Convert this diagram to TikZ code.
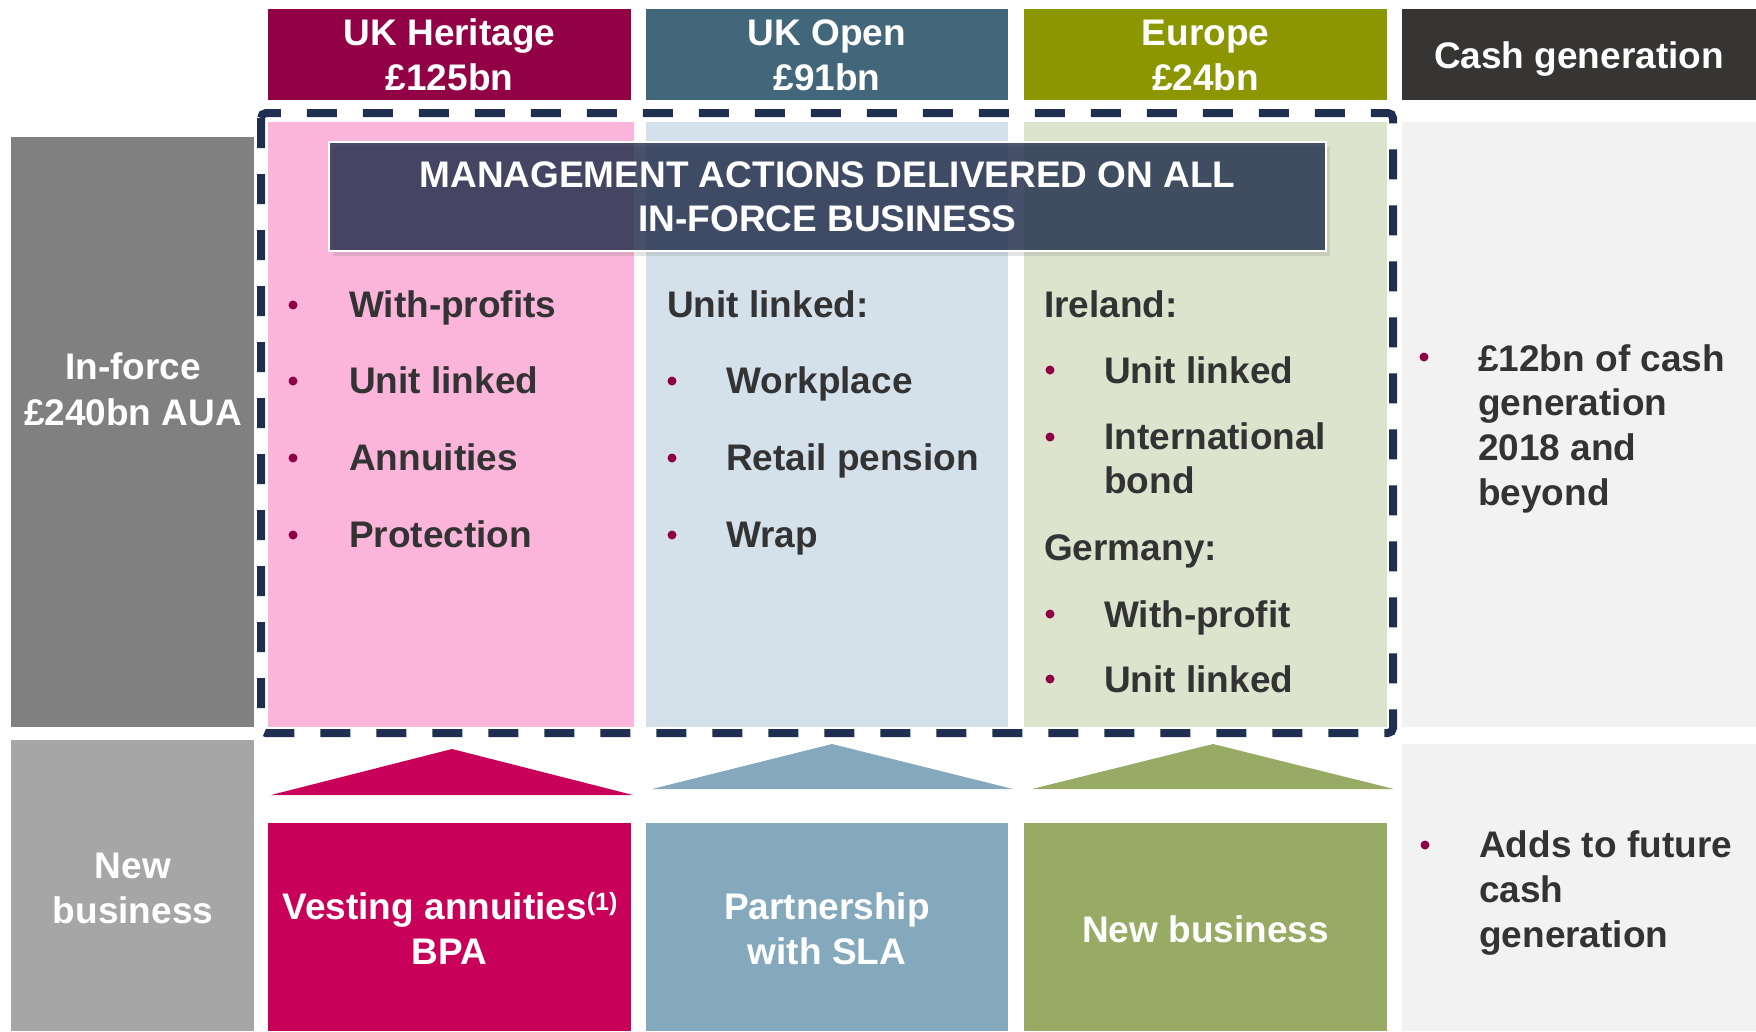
\documentclass[tikz,border=0pt]{standalone}
\usepackage{fontspec}
\setmainfont{Liberation Sans}
\usetikzlibrary{shadows}
\definecolor{hdrHer}{HTML}{920046}
\definecolor{hdrOpen}{HTML}{43677A}
\definecolor{hdrEur}{HTML}{8C9600}
\definecolor{hdrCash}{HTML}{363533}
\definecolor{colPink}{HTML}{FBB4DA}
\definecolor{colBlue}{HTML}{D4E1EA}
\definecolor{colGreen}{HTML}{DCE4CE}
\definecolor{colGray}{HTML}{F2F2F2}
\definecolor{inforce}{HTML}{808080}
\definecolor{newbiz}{HTML}{A6A6A6}
\definecolor{navy}{HTML}{1F2F50}
\definecolor{mgmt}{HTML}{1F2C4A}
\definecolor{botPink}{HTML}{C8005A}
\definecolor{botBlue}{HTML}{84A9BD}
\definecolor{botGreen}{HTML}{97AB64}
\definecolor{bodytxt}{HTML}{333333}
\definecolor{bulletc}{HTML}{8E0045}
\newcommand{\bigtxt}{\fontsize{37}{45}\selectfont\bfseries}
\begin{document}
\begin{tikzpicture}[x=1pt,y=-1pt,
  panel/.style={rectangle, inner sep=0pt, outer sep=0pt, anchor=north west, draw=none},
  wtxt/.style={anchor=base, text=white, font=\bigtxt, inner sep=0pt},
  btxt/.style={anchor=base west, text=bodytxt, font=\bigtxt, inner sep=0pt},
  bul/.style={fill=bulletc},
  hdrsize/.style={minimum width=#1, minimum height=91pt},
]
\useasboundingbox (0,0) rectangle (1756,1031);

% header row
\node[panel, fill=hdrHer,  hdrsize=363pt] (hHer)  at (268,9) {};
\node[panel, fill=hdrOpen, hdrsize=362pt] (hOpen) at (646,9) {};
\node[panel, fill=hdrEur,  hdrsize=363pt] (hEur)  at (1024,9) {};
\node[panel, fill=hdrCash, hdrsize=354pt] (hCash) at (1402,9) {};

% in-force row
\node[panel, fill=inforce,  minimum width=243pt, minimum height=590pt] (inf)   at (11,137) {};
\node[panel, fill=colPink,  minimum width=366pt, minimum height=605pt] (cPink) at (268,122) {};
\node[panel, fill=colBlue,  minimum width=362pt, minimum height=605pt] (cBlue) at (646,122) {};
\node[panel, fill=colGreen, minimum width=363pt, minimum height=605pt] (cGreen) at (1024,122) {};
\node[panel, fill=colGray,  minimum width=354pt, minimum height=605pt] (cGray) at (1402,122) {};

% new business row
\node[panel, fill=newbiz,   minimum width=243pt, minimum height=291pt] (nb)    at (11,740) {};
\node[panel, fill=botPink,  minimum width=363pt, minimum height=208pt] (bPink) at (268,823) {};
\node[panel, fill=botBlue,  minimum width=362pt, minimum height=208pt] (bBlue) at (646,823) {};
\node[panel, fill=botGreen, minimum width=363pt, minimum height=208pt] (bGreen) at (1024,823) {};
\node[panel, fill=colGray,  minimum width=354pt, minimum height=287pt] (bGray) at (1402,744) {};

% triangles
\fill[botPink]  (271,795) -- (452,749) -- (633,795) -- cycle;
\fill[botBlue]  (652,789) -- (832,744) -- (1013,789) -- cycle;
\fill[botGreen] (1032,789) -- (1213,744) -- (1394,789) -- cycle;

% dashed frame
\draw[navy, line width=8pt, dash pattern=on 30pt off 26pt, rounded corners=5pt]
  (261,113) rectangle (1393,733);

% management box
\node[panel, fill=mgmt, fill opacity=0.8, draw=white, line width=2pt,
      minimum width=997pt, minimum height=109pt,
      drop shadow={shadow xshift=4pt, shadow yshift=-5pt, opacity=0.22}] (mg) at (329,142) {};
\node[wtxt] (mg1) at (827.5,187) {MANAGEMENT ACTIONS DELIVERED ON ALL};
\node[wtxt] (mg2) at (827.5,231) {IN-FORCE BUSINESS};

% header texts
\node[wtxt] (tHer1)  at (449.5,45) {UK Heritage};
\node[wtxt] (tHer2)  at (449.5,90) {£125bn};
\node[wtxt] (tOpen1) at (827,45) {UK Open};
\node[wtxt] (tOpen2) at (827,90) {£91bn};
\node[wtxt] (tEur1)  at (1205.5,45) {Europe};
\node[wtxt] (tEur2)  at (1205.5,90) {£24bn};
\node[wtxt] (tCash)  at (1579,68) {Cash generation};

% row labels
\node[wtxt] (tInf1) at (133,379) {In-force};
\node[wtxt] (tInf2) at (133,425) {£240bn AUA};
\node[wtxt] (tNb1)  at (133,878) {New};
\node[wtxt] (tNb2)  at (133,923) {business};

% UK Heritage list
\fill[bul] (293,305) circle (4.5pt);
\fill[bul] (293,381) circle (4.5pt);
\fill[bul] (293,458) circle (4.5pt);
\fill[bul] (293,535) circle (4.5pt);
\node[btxt] (her1) at (349,317) {With-profits};
\node[btxt] (her2) at (349,393) {Unit linked};
\node[btxt] (her3) at (349,470) {Annuities};
\node[btxt] (her4) at (349,547) {Protection};

% UK Open list
\node[btxt] (open0) at (667,317) {Unit linked:};
\fill[bul] (672,381) circle (4.5pt);
\fill[bul] (672,458) circle (4.5pt);
\fill[bul] (672,535) circle (4.5pt);
\node[btxt] (open1) at (726,393) {Workplace};
\node[btxt] (open2) at (726,470) {Retail pension};
\node[btxt] (open3) at (726,547) {Wrap};

% Europe list
\node[btxt] (eur0) at (1044,317) {Ireland:};
\fill[bul] (1050,370) circle (4.5pt);
\fill[bul] (1050,437) circle (4.5pt);
\node[btxt] (eur1) at (1104,383) {Unit linked};
\node[btxt] (eur2) at (1104,449) {International};
\node[btxt] (eur3) at (1104,493) {bond};
\node[btxt] (eur4) at (1044,560) {Germany:};
\fill[bul] (1050,614) circle (4.5pt);
\fill[bul] (1050,679) circle (4.5pt);
\node[btxt] (eur5) at (1104,627) {With-profit};
\node[btxt] (eur6) at (1104,692) {Unit linked};

% Cash generation texts
\fill[bul] (1424,357) circle (4.5pt);
\node[btxt] (cg1) at (1478,371) {£12bn of cash};
\node[btxt] (cg2) at (1478,415) {generation};
\node[btxt] (cg3) at (1478,460) {2018 and};
\node[btxt] (cg4) at (1478,505) {beyond};
\fill[bul] (1425,845) circle (4.5pt);
\node[btxt] (cg5) at (1479,857) {Adds to future};
\node[btxt] (cg6) at (1479,902) {cash};
\node[btxt] (cg7) at (1479,947) {generation};

% bottom box texts
\node[wtxt] (bp1) at (450,919) {Vesting annuities\raisebox{9pt}{\fontsize{25}{25}\selectfont(1)}};
\node[wtxt] (bp2) at (449.5,964) {BPA};
\node[wtxt] (bb1) at (827,919) {Partnership};
\node[wtxt] (bb2) at (827,964) {with SLA};
\node[wtxt] (bg1) at (1205.5,942) {New business};
\end{tikzpicture}
\end{document}
